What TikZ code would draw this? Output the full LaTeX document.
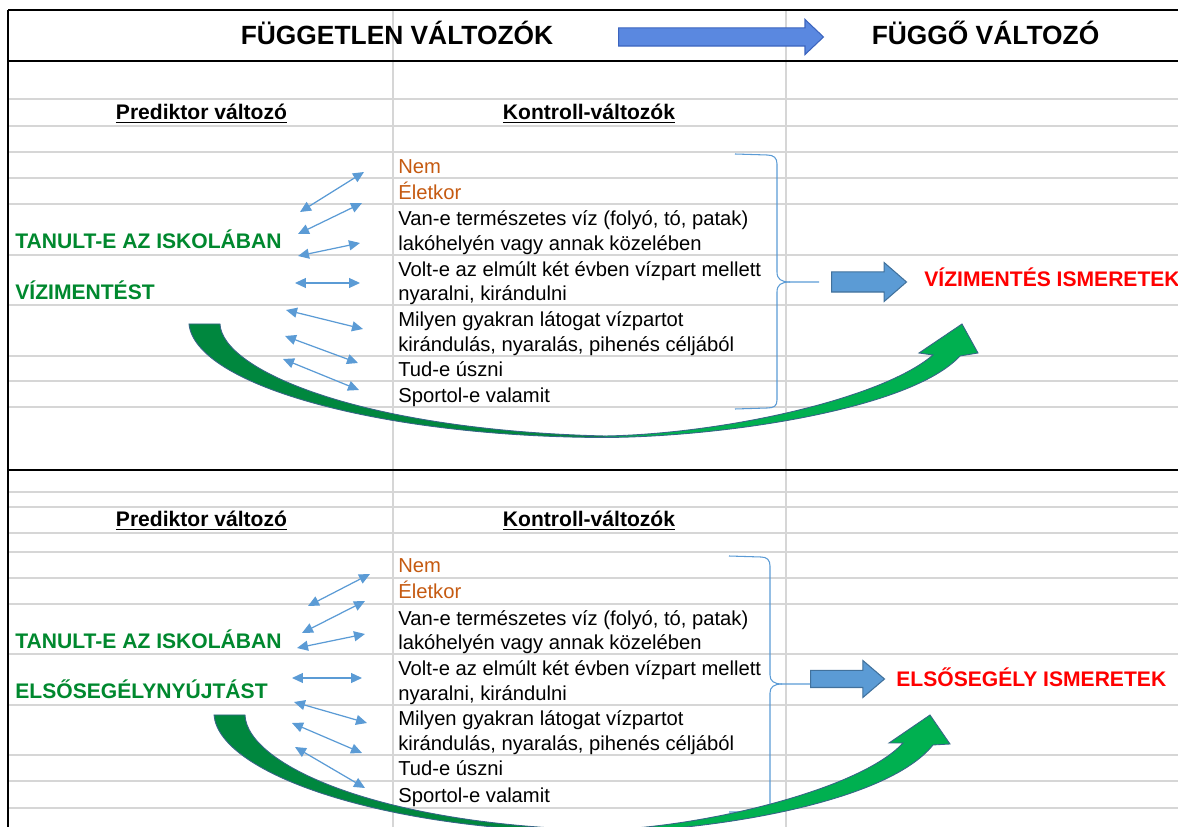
\documentclass[tikz,border=0pt]{standalone}
\usepackage{fontspec}
\setmainfont{Liberation Sans}
\usetikzlibrary{shapes.arrows, arrows.meta}

\definecolor{GridGray}{RGB}{214,214,214}
\definecolor{ArrowBlue}{RGB}{91,155,213}
\definecolor{BlockLine}{RGB}{65,113,156}
\definecolor{HeadBlue}{RGB}{90,136,224}
\definecolor{HeadLine}{RGB}{60,100,190}
\definecolor{ItemOrange}{RGB}{197,90,17}
\definecolor{PredGreen}{RGB}{0,136,46}
\definecolor{CurveDark}{RGB}{0,135,62}
\definecolor{CurveLight}{RGB}{0,176,80}
\definecolor{CurveLine}{RGB}{55,100,135}

\begin{document}
\begin{tikzpicture}[x=0.02cm, y=-0.02cm]
	\useasboundingbox (0, 0) rectangle (1178, 827);
	\tikzstyle{every node}=[inner sep=0pt, font=\fontsize{11.5}{13}\selectfont]
	\tikzstyle{item_text}=[anchor=base west]
	\tikzstyle{item_orange}=[anchor=base west, text=ItemOrange]
	\tikzstyle{col_head}=[anchor=base, font=\fontsize{12}{14}\selectfont\bfseries]
	\tikzstyle{title_text}=[anchor=base, font=\fontsize{15}{18}\selectfont\bfseries]
	\tikzstyle{pred_text}=[anchor=base west, text=PredGreen, font=\fontsize{12}{14}\selectfont\bfseries]
	\tikzstyle{dep_text}=[anchor=base west, text=red, font=\fontsize{12}{14}\selectfont\bfseries]
	\tikzstyle{grid_line}=[draw=GridGray, line width=0.6pt]
	\tikzstyle{border_line}=[draw=black, line width=0.8pt]
	\tikzstyle{thick_line}=[draw=black, line width=1.2pt]
	\tikzstyle{dbl_arrow}=[draw=ArrowBlue, line width=0.7pt, {Triangle[length=0.22cm, width=0.2cm]}-{Triangle[length=0.22cm, width=0.2cm]}]
	\tikzstyle{brace_line}=[draw=ArrowBlue, line width=0.6pt]
	\tikzstyle{block_arrow}=[single arrow, anchor=tail, draw=BlockLine, fill=ArrowBlue, line width=0.6pt]
	\tikzstyle{curve_dark}=[fill=CurveDark, draw=CurveLine, line width=0.5pt]
	\tikzstyle{curve_light}=[fill=CurveLight, draw=CurveLine, line width=0.5pt]

	% sheet lines
	\draw[grid_line] (393, 10)--(393, 827) (786, 10)--(786, 827);
	\draw[grid_line] (8, 99)--(1178, 99) (8, 126)--(1178, 126) (8, 152)--(1178, 152) (8, 178)--(1178, 178)
		(8, 204)--(1178, 204) (8, 255)--(1178, 255) (8, 305)--(1178, 305) (8, 356)--(1178, 356)
		(8, 381)--(1178, 381) (8, 407)--(1178, 407);
	\draw[grid_line] (8, 492)--(1178, 492) (8, 507)--(1178, 507) (8, 533)--(1178, 533) (8, 552)--(1178, 552)
		(8, 578)--(1178, 578) (8, 604)--(1178, 604) (8, 654)--(1178, 654) (8, 705)--(1178, 705)
		(8, 755)--(1178, 755) (8, 781)--(1178, 781) (8, 808)--(1178, 808);
	\draw[border_line] (8, 10)--(1178, 10);
	\draw[border_line] (8, 10)--(8, 827);
	\draw[thick_line] (8, 61)--(1178, 61);
	\draw[thick_line] (8, 470)--(1178, 470);

	% header
	\node[title_text](Indep_Title) at (397, 45) {FÜGGETLEN VÁLTOZÓK};
	\node[single arrow, anchor=tail, draw=HeadLine, fill=HeadBlue, line width=0.6pt, inner ysep=0.17cm, minimum height=4.1cm, single arrow head extend=0.17cm, single arrow tip angle=87](Head_Arrow) at (618, 37) {};
	\node[title_text](Dep_Title) at (985.5, 45) {FÜGGŐ VÁLTOZÓ};

	% upper block: water rescue
	\node[col_head](Pred_Head_1) at (201.5, 120) {\underline{Prediktor változó}};
	\node[col_head](Ctrl_Head_1) at (589, 120) {\underline{Kontroll-változók}};
	\node[pred_text](Pred_1a) at (15, 249) {TANULT-E AZ ISKOLÁBAN};
	\node[pred_text](Pred_1b) at (15, 300) {VÍZIMENTÉST};

	\node[item_orange](Nem_1) at (398, 174) {Nem};
	\node[item_orange](Kor_1) at (398, 200) {Életkor};
	\node[item_text](Viz_1a) at (398, 226) {Van-e természetes víz (folyó, tó, patak)};
	\node[item_text](Viz_1b) at (398, 251) {lakóhelyén vagy annak közelében};
	\node[item_text](Volt_1a) at (398, 277) {Volt-e az elmúlt két évben vízpart mellett};
	\node[item_text](Volt_1b) at (398, 301) {nyaralni, kirándulni};
	\node[item_text](Gyak_1a) at (398, 327) {Milyen gyakran látogat vízpartot};
	\node[item_text](Gyak_1b) at (398, 352) {kirándulás, nyaralás, pihenés céljából};
	\node[item_text](Uszni_1) at (398, 377) {Tud-e úszni};
	\node[item_text](Sport_1) at (398, 403) {Sportol-e valamit};

	% brace + outcome
	\draw[brace_line] (735, 154)--(767, 155) .. controls (774, 155) and (777, 158) .. (777, 164)--(777, 272) .. controls (777, 279) and (781, 282) .. (790, 282)--(819, 282);
	\draw[brace_line] (790, 282) .. controls (781, 282) and (777, 285) .. (777, 292)--(777, 400) .. controls (777, 406) and (774, 408) .. (767, 408)--(735, 409);
	\node[block_arrow, inner ysep=0.19cm, minimum height=1.5cm, single arrow head extend=0.19cm, single arrow tip angle=82](Block_Arrow_1) at (831, 282) {};
	\node[dep_text](Dep_1) at (924, 287) {VÍZIMENTÉS ISMERETEK};

	% double arrows
	\foreach \i/\xa/\ya/\xb/\yb in {1/300/212/364/172, 2/298/234/362/203, 3/298/256/360/243, 4/295/283/360/283, 5/286/310/363/329, 6/285/336/358/363, 7/283/359/359/390}{
		\coordinate (U\i_L) at (\xa, \ya);
		\coordinate (U\i_R) at (\xb, \yb);
		\draw[dbl_arrow] (U\i_L)--(U\i_R);
	}

	% green curve
	\draw[curve_dark] (189, 324) .. controls (195, 385) and (380, 437) .. (605, 437.5)--(605, 436) .. controls (360, 430) and (222, 370) .. (220, 324)--cycle;
	\draw[curve_light] (605, 437.5) .. controls (720, 437) and (910, 410) .. (960, 356)--(978, 353)--(962, 324)--(919, 353)--(933, 355) .. controls (880, 400) and (720, 434) .. (605, 436)--cycle;

	% lower block: first aid
	\node[col_head](Pred_Head_2) at (201.5, 527) {\underline{Prediktor változó}};
	\node[col_head](Ctrl_Head_2) at (589, 527) {\underline{Kontroll-változók}};
	\node[pred_text](Pred_2a) at (15, 649) {TANULT-E AZ ISKOLÁBAN};
	\node[pred_text](Pred_2b) at (15, 699) {ELSŐSEGÉLYNYÚJTÁST};

	\node[item_orange](Nem_2) at (398, 573) {Nem};
	\node[item_orange](Kor_2) at (398, 599) {Életkor};
	\node[item_text](Viz_2a) at (398, 626) {Van-e természetes víz (folyó, tó, patak)};
	\node[item_text](Viz_2b) at (398, 650) {lakóhelyén vagy annak közelében};
	\node[item_text](Volt_2a) at (398, 676) {Volt-e az elmúlt két évben vízpart mellett};
	\node[item_text](Volt_2b) at (398, 701) {nyaralni, kirándulni};
	\node[item_text](Gyak_2a) at (398, 726) {Milyen gyakran látogat vízpartot};
	\node[item_text](Gyak_2b) at (398, 751) {kirándulás, nyaralás, pihenés céljából};
	\node[item_text](Uszni_2) at (398, 776) {Tud-e úszni};
	\node[item_text](Sport_2) at (398, 803) {Sportol-e valamit};

	% brace + outcome
	\node[block_arrow, inner ysep=0.16cm, minimum height=1.48cm, single arrow head extend=0.2cm, single arrow tip angle=81](Block_Arrow_2) at (810, 679) {};
	\draw[brace_line] (729, 556)--(761, 557) .. controls (767, 557) and (770, 560) .. (770, 566)--(770, 675) .. controls (770, 681) and (774, 684) .. (782, 684)--(810, 684);
	\draw[brace_line] (782, 684) .. controls (774, 684) and (770, 687) .. (770, 693)--(770, 803) .. controls (770, 809) and (767, 812) .. (761, 812)--(729, 812);
	\node[dep_text](Dep_2) at (896, 687) {ELSŐSEGÉLY ISMERETEK};

	% double arrows
	\foreach \i/\xa/\ya/\xb/\yb in {1/308/606/370/574, 2/302/633/365/601, 3/297/648/365/634, 4/292/678/362/678, 5/294/702/367/723, 6/292/723/362/753, 7/295/747/365/788}{
		\coordinate (D\i_L) at (\xa, \ya);
		\coordinate (D\i_R) at (\xb, \yb);
		\draw[dbl_arrow] (D\i_L)--(D\i_R);
	}

	% green curve
	\draw[curve_dark] (214, 715) .. controls (219, 775) and (390, 832) .. (600, 832)--(600, 830) .. controls (380, 825) and (247, 765) .. (245, 715)--cycle;
	\draw[curve_light] (600, 832) .. controls (700, 832) and (885, 805) .. (933, 745)--(950, 744)--(930, 715)--(889, 743)--(903, 743) .. controls (860, 790) and (700, 828) .. (600, 830)--cycle;
\end{tikzpicture}
\end{document}
